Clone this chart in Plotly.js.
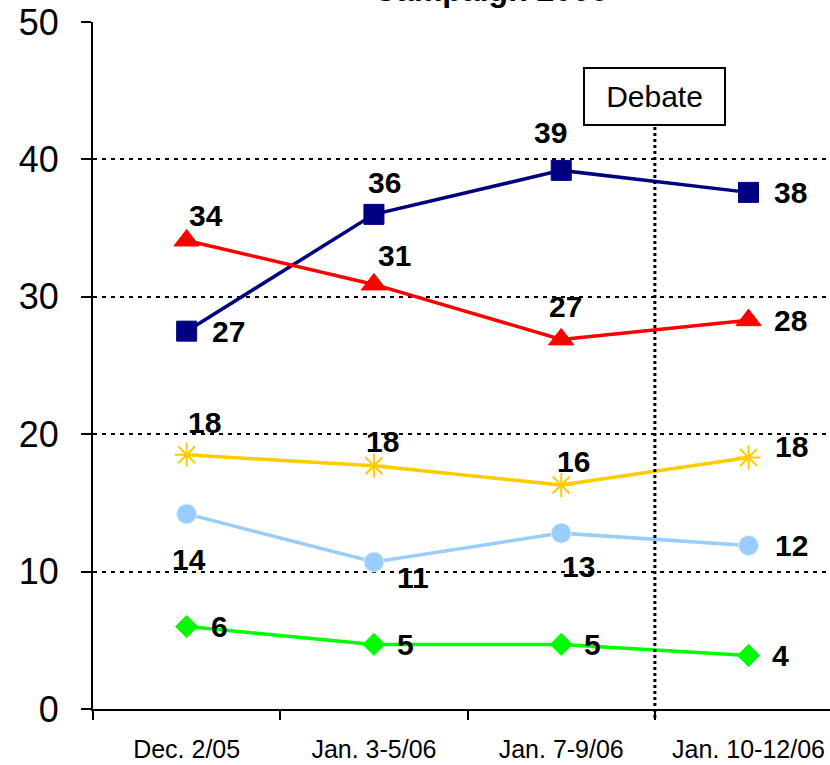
<!DOCTYPE html>
<html>
<head>
<meta charset="utf-8">
<script src="https://cdn.plot.ly/plotly-3.0.1.min.js"></script>
<style>html,body{margin:0;padding:0;background:#fff;}#chart{width:830px;height:765px;}</style>
</head>
<body>
<div id="chart"></div>
<script>
// ---- data ----
const categories = ["Dec. 2/05", "Jan. 3-5/06", "Jan. 7-9/06", "Jan. 10-12/06"];
const navyValues   = [27.5, 36.0, 39.2, 37.6];
const navyLabels   = ["27", "36", "39", "38"];
const redValues    = [34.1, 30.9, 26.9, 28.3];
const redLabels    = ["34", "31", "27", "28"];
const yellowValues = [18.5, 17.7, 16.3, 18.3];
const yellowLabels = ["18", "18", "16", "18"];
const lblueValues  = [14.2, 10.7, 12.8, 11.9];
const lblueLabels  = ["14", "11", "13", "12"];
const greenValues  = [6.0, 4.7, 4.7, 3.9];
const greenLabels  = ["6", "5", "5", "4"];
const yTicks = [0, 10, 20, 30, 40, 50];
const titleText = "Campaign 2006";
const debateText = "Debate";

// ---- styles ----
const FONT = "Liberation Sans, Arial, sans-serif";
const xIdx = categories.map((c, i) => i);
const series = [
  {v: navyValues, l: navyLabels, color: "#000080", symbol: "square", size: 20,
   off: [[42, 0], [11, -32], [-11, -38], [42, 0]]},
  {v: redValues, l: redLabels, color: "#ff0000", symbol: "triangle-up", size: 22,
   off: [[19, -25], [21, -29], [4, -33], [42, 0]]},
  {v: yellowValues, l: yellowLabels, color: "#ffcc00", symbol: "asterisk-open", size: 20,
   off: [[18, -32], [9, -24], [12, -24], [43, -11]]},
  {v: lblueValues, l: lblueLabels, color: "#99ccff", symbol: "circle", size: 20,
   off: [[2, 46], [39, 16], [17, 33], [43, 0]]},
  {v: greenValues, l: greenLabels, color: "#00ff00", symbol: "diamond", size: 17,
   off: [[33, 0], [32, 0], [31, 0], [32, 0]]}
];

const traces = series.map(s => ({
  x: xIdx, y: s.v, type: "scatter", mode: "lines+markers",
  line: {color: s.color, width: 3.5},
  marker: {symbol: s.symbol, size: s.size, color: s.color,
    line: {color: s.symbol === "circle" ? "#e0f0ff" : s.color,
           width: s.symbol === "asterisk-open" ? 2 : 1}},
  hoverinfo: "skip", cliponaxis: false
}));

const annotations = [];
series.forEach(s => {
  s.v.forEach((val, i) => {
    annotations.push({
      x: xIdx[i], y: val, xref: "x", yref: "y", text: s.l[i], showarrow: false,
      xshift: s.off[i][0], yshift: -s.off[i][1],
      font: {family: FONT, size: 30, color: "#000", weight: "bold"},
      xanchor: "center", yanchor: "middle"
    });
  });
});
// debate box
annotations.push({
  x: 2.5, xref: "x", y: 0.8916, yref: "paper", text: debateText, showarrow: false,
  font: {family: FONT, size: 30, color: "#000"},
  bordercolor: "#000", borderwidth: 2, bgcolor: "#fff",
  width: 137, height: 53, xanchor: "center", yanchor: "middle"
});
// clipped title
annotations.push({
  x: (490 - 93) / (830 - 93), xref: "paper", y: 1.0175, yref: "paper",
  text: "<b>" + titleText + "</b>", showarrow: false,
  font: {family: FONT, size: 32, color: "#000"}, xanchor: "center", yanchor: "bottom"
});

const layout = {
  width: 830, height: 765,
  margin: {l: 93, r: 0, t: 22, b: 56},
  paper_bgcolor: "#fff", plot_bgcolor: "#fff",
  showlegend: false, hovermode: false,
  xaxis: {
    range: [-0.5, 3.435], tickmode: "array", tickvals: xIdx, ticktext: categories,
    ticks: "", showgrid: false, zeroline: false,
    showline: true, linecolor: "#000", linewidth: 2,
    tickfont: {family: FONT, size: 25, color: "#000", weight: "normal"},
    ticklabelstandoff: 17,
    minor: {tickmode: "array", tickvals: [-0.5, 0.5, 1.5, 2.5], ticks: "outside",
            ticklen: 9, tickwidth: 2, tickcolor: "#000", showgrid: false}
  },
  yaxis: {
    range: [0, 50], tickmode: "array", tickvals: yTicks,
    ticks: "outside", ticklen: 10, tickwidth: 2, tickcolor: "#000",
    showline: true, linecolor: "#000", linewidth: 2, zeroline: false,
    showgrid: true, gridcolor: "#000", gridwidth: 2, griddash: "4px,5px",
    tickfont: {family: FONT, size: 36, color: "#000"},
    ticklabelstandoff: 15
  },
  shapes: [{
    type: "line", xref: "x", yref: "paper", x0: 2.5, x1: 2.5, y0: -0.013, y1: 0.85,
    line: {color: "#000", width: 3, dash: "3px,3px"}
  }],
  annotations: annotations
};

Plotly.newPlot("chart", traces, layout, {displayModeBar: false, staticPlot: true});
</script>
</body>
</html>
